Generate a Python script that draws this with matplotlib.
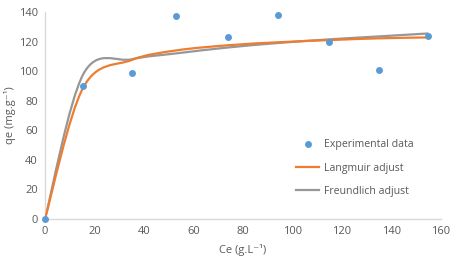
import numpy as np
import matplotlib
matplotlib.use("Agg")
import matplotlib.pyplot as plt
from matplotlib.path import Path
from matplotlib.patches import PathPatch
from matplotlib.lines import Line2D

plt.rcParams['font.family'] = ['Open Sans', 'DejaVu Sans']

# data
ce = [0, 15.5, 35, 53, 74, 94, 115, 135, 155]
qe_exp = [0, 90, 99, 137, 123, 138, 120, 100.5, 123.5]
qe_langmuir = [0, 89, 107.5, 114, 117.5, 119.5, 121, 122.2, 122.8]
qe_freundlich = [0, 98, 108, 112, 116, 119, 121.5, 123.5, 125.5]


def smooth_path(x, y):
    # Excel-style smoothed line: Catmull-Rom converted to cubic Bezier segments
    pts = np.column_stack([x, y]).astype(float)
    verts = [pts[0]]
    codes = [Path.MOVETO]
    n = len(pts)
    for i in range(n - 1):
        p0 = pts[i - 1] if i > 0 else pts[i]
        p1 = pts[i]
        p2 = pts[i + 1]
        p3 = pts[i + 2] if i + 2 < n else pts[i + 1]
        c1 = p1 + (p2 - p0) / 6
        c2 = p2 - (p3 - p1) / 6
        verts += [c1, c2, p2]
        codes += [Path.CURVE4] * 3
    return Path(verts, codes)


fig = plt.figure(figsize=(4.54, 2.61), dpi=100)
ax = fig.add_axes([0.099, 0.161, 0.872, 0.793])

text_color = '#595959'
orange = '#ED7D31'
gray = '#979797'
blue = '#5B9BD5'

ax.add_patch(PathPatch(smooth_path(ce, qe_freundlich), fill=False,
                       edgecolor=gray, lw=1.6, zorder=2))
ax.add_patch(PathPatch(smooth_path(ce, qe_langmuir), fill=False,
                       edgecolor=orange, lw=1.6, zorder=3))
ax.plot(ce, qe_exp, 'o', color=blue, ms=5, mec='none', zorder=4, clip_on=False)

ax.set_xlim(0, 160)
ax.set_ylim(0, 140)
ax.set_xticks(np.arange(0, 161, 20))
ax.set_yticks(np.arange(0, 141, 20))
ax.tick_params(length=0, labelsize=8, labelcolor=text_color, pad=5)

for s in ['top', 'right']:
    ax.spines[s].set_visible(False)
for s in ['left', 'bottom']:
    ax.spines[s].set_color('#D9D9D9')
    ax.spines[s].set_linewidth(1)

ax.set_xlabel('Ce (g.L⁻¹)', fontsize=8, color=text_color, labelpad=5)
ax.set_ylabel('qe (mg.g⁻¹)', fontsize=8, color=text_color, labelpad=2)

handles = [
    Line2D([], [], marker='o', ls='none', color=blue, ms=5, mec='none'),
    Line2D([], [], color=orange, lw=1.6),
    Line2D([], [], color=gray, lw=1.6),
]
labels = ['Experimental data', 'Langmuir adjust', 'Freundlich adjust']
ax.legend(handles, labels, loc='upper left', bbox_to_anchor=(0.61, 0.43),
          frameon=False, fontsize=7.6, labelcolor=text_color,
          handlelength=2.2, labelspacing=1.15, handletextpad=0.5)

fig.savefig('out.png', dpi=100)
